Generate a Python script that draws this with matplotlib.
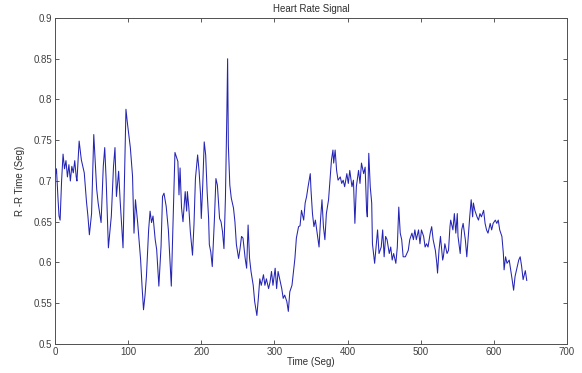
import matplotlib
matplotlib.use("Agg")
import matplotlib.pyplot as plt

# R-R intervals (time in s, interval in s)
t_part1 = [0, 2, 4, 5.5, 7, 9, 11, 13, 15, 17, 19, 21, 23, 25, 27, 29, 30, 33, 36, 40,
           43, 45, 47, 50, 53, 57, 59, 63, 66, 68, 70, 73, 77, 80, 82, 84, 87, 89, 93, 97,
           99, 103, 106, 108, 110, 113, 117, 119, 121, 123, 125, 128, 130, 132, 134, 137,
           139, 142, 145, 147, 149, 152, 155, 159, 162, 164]
rr_part1 = [0.705, 0.715, 0.68, 0.657, 0.652, 0.70, 0.733, 0.715, 0.725, 0.705, 0.72, 0.70,
            0.718, 0.71, 0.725, 0.705, 0.70, 0.749, 0.726, 0.71, 0.675, 0.657, 0.634, 0.66,
            0.757, 0.69, 0.673, 0.649, 0.718, 0.741, 0.70, 0.618, 0.657, 0.718, 0.741, 0.681,
            0.712, 0.677, 0.618, 0.788, 0.771, 0.741, 0.706, 0.636, 0.677, 0.649, 0.604,
            0.571, 0.542, 0.559, 0.583, 0.64, 0.663, 0.649, 0.657, 0.628, 0.616, 0.571, 0.62,
            0.681, 0.685, 0.669, 0.64, 0.571, 0.669, 0.735]

t_part2 = [168, 169.5, 171, 173, 175, 178, 180, 181, 183, 185, 188, 190, 192, 195, 197,
           199, 200, 202, 204, 206, 208, 210, 211, 213, 215, 218, 220, 222, 225, 227, 229,
           231, 233, 235, 236, 237, 239, 241, 244, 246, 248, 251, 253, 255, 257, 260, 262,
           264, 266, 268, 271, 273, 276, 278, 280, 282, 285, 287, 289, 292, 294, 296, 298,
           301, 303, 305, 308, 310, 312, 314, 317, 319, 321, 324, 326, 328]
rr_part2 = [0.724, 0.683, 0.716, 0.667, 0.65, 0.687, 0.663, 0.687, 0.667, 0.638, 0.609,
            0.646, 0.703, 0.732, 0.712, 0.683, 0.654, 0.695, 0.748, 0.732, 0.687, 0.654,
            0.622, 0.613, 0.595, 0.654, 0.703, 0.695, 0.654, 0.65, 0.638, 0.617, 0.679,
            0.785, 0.85, 0.744, 0.695, 0.679, 0.667, 0.65, 0.622, 0.605, 0.617, 0.632, 0.63,
            0.605, 0.593, 0.646, 0.605, 0.589, 0.572, 0.552, 0.535, 0.556, 0.58, 0.572,
            0.585, 0.572, 0.58, 0.568, 0.576, 0.589, 0.572, 0.593, 0.568, 0.589, 0.576,
            0.568, 0.556, 0.56, 0.552, 0.54, 0.564, 0.572, 0.589, 0.605]

t_part3 = [330, 333, 335, 337, 340, 342, 344, 346, 349, 350, 352, 354, 356, 359, 361, 363,
           365, 367, 369, 371, 374, 376, 378, 380, 381, 383, 385, 387, 390, 392, 394, 396,
           399, 401, 403, 406, 408, 410, 412, 415, 417, 419, 422, 424, 426, 427, 429, 431,
           433, 434, 437, 439, 441, 443, 446, 448, 450, 452, 454, 457, 459, 461, 463, 466,
           468, 470, 472, 474, 476, 479, 481, 483, 485, 488, 490]
rr_part3 = [0.63, 0.644, 0.645, 0.664, 0.652, 0.673, 0.681, 0.693, 0.709, 0.689, 0.66,
            0.644, 0.652, 0.632, 0.619, 0.652, 0.677, 0.644, 0.628, 0.66, 0.677, 0.701,
            0.726, 0.738, 0.722, 0.738, 0.713, 0.701, 0.705, 0.697, 0.701, 0.693, 0.709,
            0.697, 0.713, 0.693, 0.701, 0.648, 0.693, 0.713, 0.697, 0.722, 0.709, 0.717,
            0.664, 0.656, 0.734, 0.693, 0.673, 0.623, 0.599, 0.619, 0.64, 0.611, 0.619,
            0.64, 0.607, 0.632, 0.628, 0.611, 0.619, 0.603, 0.611, 0.599, 0.619, 0.668,
            0.636, 0.628, 0.607, 0.607, 0.611, 0.615, 0.628, 0.636, 0.628]

t_part4 = [492, 494, 497, 499, 501, 504, 506, 508, 510, 513, 515, 517, 520, 522, 523, 525,
           527, 530, 531, 533, 536, 538, 540, 541, 544, 546, 548, 550, 551, 554, 556, 558,
           561, 563, 565, 567, 569, 571, 572, 574, 577, 579, 581, 583, 586, 588, 590, 592,
           595, 597, 599, 602, 604, 606, 608, 611, 613, 614, 616, 618, 621, 623, 625, 627,
           629, 631, 634, 636, 638, 640, 643, 645]
rr_part4 = [0.64, 0.628, 0.64, 0.623, 0.64, 0.632, 0.619, 0.623, 0.619, 0.636, 0.644,
            0.628, 0.615, 0.599, 0.587, 0.615, 0.632, 0.603, 0.607, 0.623, 0.611, 0.615,
            0.644, 0.652, 0.64, 0.66, 0.636, 0.66, 0.632, 0.611, 0.64, 0.648, 0.628, 0.607,
            0.632, 0.656, 0.677, 0.656, 0.673, 0.664, 0.656, 0.652, 0.66, 0.656, 0.664,
            0.648, 0.64, 0.636, 0.648, 0.64, 0.648, 0.652, 0.648, 0.652, 0.64, 0.632, 0.611,
            0.591, 0.607, 0.599, 0.603, 0.591, 0.579, 0.566, 0.583, 0.591, 0.603, 0.607,
            0.595, 0.579, 0.59, 0.578]

xticks = [0, 100, 200, 300, 400, 500, 600, 700]
yticks = [0.5, 0.55, 0.6, 0.65, 0.7, 0.75, 0.8, 0.85, 0.9]
ytick_labels = ["0.5", "0.55", "0.6", "0.65", "0.7", "0.75", "0.8", "0.85", "0.9"]

time = t_part1 + t_part2 + t_part3 + t_part4
rr = rr_part1 + rr_part2 + rr_part3 + rr_part4

plt.rcParams["font.family"] = ["Liberation Sans", "DejaVu Sans"]
fig = plt.figure(figsize=(5.82, 3.73), dpi=100)
ax = fig.add_axes([55 / 582, 1 - 344 / 373, 512 / 582, 326 / 373])

ax.plot(time, rr, color="#2424b4", linewidth=0.75)

ax.set_xlim(0, 700)
ax.set_ylim(0.5, 0.9)
ax.set_xticks(xticks)
ax.set_yticks(yticks)
ax.set_yticklabels(ytick_labels)
ax.tick_params(direction="in", top=True, right=True, length=3, width=0.6,
               labelsize=7, colors="#404040", pad=2)
for spine in ax.spines.values():
    spine.set_color("#505050")
    spine.set_linewidth(0.7)

ax.set_title("Heart Rate Signal", fontsize=7, color="#303030", pad=4)
ax.set_xlabel("Time (Seg)", fontsize=7, color="#303030", labelpad=0)
ax.set_ylabel("R -R Time (Seg)", fontsize=7, color="#303030", labelpad=6)

fig.savefig("out.png", dpi=100)
